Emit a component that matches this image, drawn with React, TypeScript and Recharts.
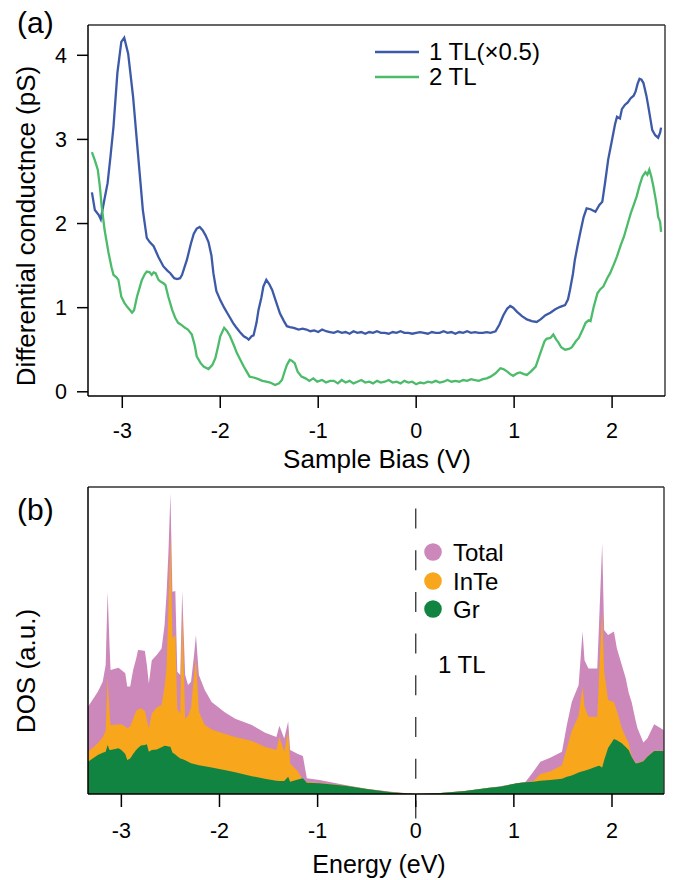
import React from 'react';
import { LineChart, Line, XAxis, YAxis, ReferenceLine, AreaChart, Area } from 'recharts';

const FONT = '"Liberation Sans", Arial, Helvetica, sans-serif';

// ---------- Panel (a): dI/dV spectra ----------
const biasTicks = [-3, -2, -1, 0, 1, 2];
const conductanceTicks = [0, 1, 2, 3, 4];

const tl1Bias = [
  -3.31, -3.28, -3.24, -3.22, -3.18, -3.15, -3.12, -3.09, -3.05, -3.01, -2.98, -2.94, -2.89, -2.84, -2.79, -2.75,
  -2.72, -2.68, -2.63, -2.58, -2.54, -2.51, -2.47, -2.44, -2.41, -2.39, -2.34, -2.30, -2.27, -2.24, -2.21, -2.18,
  -2.15, -2.12, -2.09, -2.07, -2.04, -2.00, -1.96, -1.93, -1.90, -1.87, -1.84, -1.80, -1.76, -1.73, -1.71, -1.68,
  -1.66, -1.63, -1.61, -1.58, -1.56, -1.53, -1.50, -1.47, -1.43, -1.39, -1.35, -1.32, -1.29, -1.25, -1.20, -1.16,
  -1.12, -1.08, -1.04, -1.00, -0.96, -0.92, -0.88,
  -0.84, -0.80, -0.76, -0.72, -0.68, -0.64, -0.60, -0.56, -0.52, -0.48, -0.44, -0.40, -0.36, -0.32, -0.28, -0.24,
  -0.20, -0.16, -0.12, -0.08, -0.04, 0.00, 0.04, 0.08, 0.12, 0.16, 0.20, 0.24, 0.28, 0.32, 0.36, 0.40, 0.44, 0.48,
  0.52, 0.56, 0.60, 0.64, 0.68, 0.72, 0.76,
  0.81, 0.85, 0.89, 0.93, 0.96, 0.99, 1.03, 1.08, 1.13, 1.18, 1.23, 1.27, 1.32, 1.37, 1.42, 1.47, 1.52, 1.55, 1.57,
  1.60, 1.62, 1.65, 1.68, 1.71, 1.74, 1.78, 1.83, 1.87, 1.90, 1.93, 1.96, 2.00, 2.03, 2.05, 2.08, 2.10, 2.13, 2.16,
  2.19, 2.22, 2.24, 2.26, 2.28, 2.30, 2.32, 2.35, 2.37, 2.39, 2.41, 2.44, 2.47, 2.49, 2.50,
];
const tl1Cond = [
  2.37, 2.16, 2.10, 2.05, 2.30, 2.48, 2.80, 3.15, 3.79, 4.16, 4.21, 4.02, 3.51, 2.83, 2.16, 1.83,
  1.78, 1.73, 1.60, 1.49, 1.44, 1.41, 1.35, 1.34, 1.35, 1.39, 1.57, 1.76, 1.88, 1.94, 1.96, 1.92,
  1.86, 1.78, 1.62, 1.41, 1.20, 1.09, 1.00, 0.94, 0.88, 0.82, 0.77, 0.71, 0.66, 0.64, 0.62, 0.66,
  0.67, 0.82, 0.97, 1.12, 1.25, 1.33, 1.28, 1.21, 1.07, 0.93, 0.84, 0.78, 0.77, 0.76, 0.74, 0.75,
  0.74, 0.72, 0.73, 0.71, 0.74, 0.72, 0.71,
  0.70, 0.72, 0.70, 0.71, 0.69, 0.72, 0.70, 0.71, 0.69, 0.71, 0.70, 0.72, 0.70, 0.70, 0.69, 0.71,
  0.70, 0.72, 0.70, 0.70, 0.69, 0.70, 0.71, 0.70, 0.69, 0.71, 0.70, 0.70, 0.72, 0.70, 0.71, 0.69, 0.71, 0.70,
  0.72, 0.70, 0.71, 0.70, 0.70, 0.71, 0.70,
  0.72, 0.80, 0.91, 0.99, 1.02, 1.00, 0.95, 0.90, 0.86, 0.84, 0.83, 0.86, 0.91, 0.94, 0.98, 1.01, 1.03, 1.10, 1.21,
  1.40, 1.57, 1.75, 1.92, 2.08, 2.18, 2.17, 2.14, 2.22, 2.26, 2.50, 2.76, 3.00, 3.18, 3.27, 3.25, 3.36, 3.41, 3.44,
  3.49, 3.52, 3.57, 3.66, 3.72, 3.71, 3.67, 3.52, 3.39, 3.25, 3.11, 3.05, 3.02, 3.08, 3.14,
];

const tl2Bias = [
  -3.31, -3.28, -3.25, -3.23, -3.21, -3.18, -3.14, -3.11, -3.09, -3.06, -3.04, -3.01, -2.98, -2.95, -2.92, -2.90,
  -2.88, -2.85, -2.82, -2.80, -2.77, -2.75, -2.72, -2.70, -2.68, -2.66, -2.63, -2.61, -2.58, -2.56, -2.53, -2.49,
  -2.46, -2.43, -2.39, -2.36, -2.33, -2.29, -2.26, -2.24, -2.20, -2.17, -2.12, -2.08, -2.05, -2.02, -2.00, -1.96,
  -1.93, -1.90, -1.86, -1.83, -1.79, -1.76, -1.73, -1.70, -1.66, -1.61, -1.57, -1.53, -1.49, -1.44, -1.40, -1.37,
  -1.34, -1.32, -1.29, -1.27, -1.24, -1.21, -1.17, -1.13, -1.09, -1.05, -1.01, -0.96, -0.92, -0.88,
  -0.84, -0.80, -0.76, -0.72, -0.68, -0.64, -0.60, -0.56, -0.52, -0.48, -0.44, -0.40, -0.36, -0.32, -0.28, -0.24,
  -0.20, -0.16, -0.12, -0.08, -0.04, 0.00, 0.04, 0.08, 0.12, 0.16, 0.20, 0.24, 0.28, 0.32, 0.36, 0.40, 0.44, 0.48,
  0.52, 0.56, 0.60, 0.64, 0.68, 0.72, 0.76,
  0.81, 0.86, 0.89, 0.93, 0.96, 0.99, 1.03, 1.06, 1.10, 1.13, 1.17, 1.22, 1.25, 1.28, 1.31, 1.33, 1.37, 1.40, 1.43,
  1.45, 1.48, 1.52, 1.56, 1.59, 1.63, 1.66, 1.70, 1.73, 1.76, 1.78, 1.81, 1.85, 1.88, 1.91, 1.95, 1.98, 2.02, 2.05,
  2.09, 2.12, 2.16, 2.19, 2.22, 2.25, 2.28, 2.31, 2.34, 2.36, 2.38, 2.40, 2.42, 2.44, 2.46, 2.47, 2.49, 2.50,
];
const tl2Cond = [
  2.85, 2.75, 2.64, 2.45, 2.20, 1.92, 1.65, 1.48, 1.39, 1.36, 1.33, 1.13, 1.06, 1.01, 0.97, 0.94,
  0.97, 1.13, 1.25, 1.33, 1.40, 1.43, 1.42, 1.39, 1.42, 1.41, 1.33, 1.31, 1.29, 1.27, 1.13, 0.97,
  0.88, 0.82, 0.79, 0.76, 0.74, 0.68, 0.55, 0.42, 0.34, 0.30, 0.27, 0.32, 0.40, 0.55, 0.66, 0.76,
  0.72, 0.66, 0.55, 0.46, 0.37, 0.30, 0.24, 0.18, 0.17, 0.15, 0.13, 0.12, 0.11, 0.08, 0.10, 0.14,
  0.25, 0.32, 0.38, 0.37, 0.34, 0.24, 0.18, 0.16, 0.13, 0.16, 0.12, 0.14, 0.11, 0.13,
  0.13, 0.10, 0.14, 0.11, 0.13, 0.10, 0.12, 0.14, 0.11, 0.12, 0.10, 0.13, 0.11, 0.12, 0.14, 0.11,
  0.12, 0.10, 0.13, 0.11, 0.12, 0.09, 0.11, 0.10, 0.12, 0.11, 0.13, 0.11, 0.12, 0.14, 0.12, 0.13, 0.12, 0.14,
  0.13, 0.15, 0.14, 0.13, 0.15, 0.16, 0.18,
  0.22, 0.28, 0.27, 0.24, 0.21, 0.19, 0.22, 0.23, 0.21, 0.20, 0.24, 0.30, 0.40, 0.50, 0.60, 0.63, 0.64, 0.68, 0.62,
  0.59, 0.53, 0.50, 0.51, 0.53, 0.60, 0.64, 0.74, 0.82, 0.85, 0.84, 1.00, 1.17, 1.22, 1.25, 1.35, 1.41, 1.52, 1.61,
  1.75, 1.84, 2.00, 2.12, 2.22, 2.32, 2.45, 2.56, 2.61, 2.58, 2.64, 2.56, 2.45, 2.32, 2.18, 2.08, 2.02, 1.90,
];

const tl1Data = tl1Bias.map((x, i) => ({ x, y: tl1Cond[i] }));
const tl2Data = tl2Bias.map((x, i) => ({ x, y: tl2Cond[i] }));

// ---------- Panel (b): DOS ----------
const energyTicks = [-3, -2, -1, 0, 1, 2];
const energy = [
  -3.34, -3.24, -3.19, -3.16, -3.14, -3.12, -3.11, -3.03, -3.00, -2.96, -2.94, -2.91, -2.88, -2.85, -2.83, -2.80,
  -2.76, -2.74, -2.72, -2.69, -2.64, -2.59, -2.56, -2.54, -2.52, -2.50, -2.48, -2.45, -2.43, -2.40, -2.38, -2.35,
  -2.32, -2.29, -2.26, -2.24, -2.21, -2.15, -2.08, -1.95, -1.84, -1.67, -1.54, -1.42, -1.39, -1.34, -1.30, -1.28,
  -1.20, -1.15, -1.11, -0.98, -0.72, -0.50, -0.25, 0.00, 0.25, 0.50, 0.75, 0.86, 1.03, 1.12, 1.20, 1.27, 1.37,
  1.49, 1.54, 1.59, 1.66, 1.70, 1.72, 1.76, 1.85, 1.87, 1.90, 1.92, 1.96, 2.02, 2.05, 2.10, 2.14, 2.17, 2.20, 2.24,
  2.26, 2.32, 2.36, 2.43, 2.53,
];
const dosTotal = [
  28.4, 33.3, 36.6, 42.0, 65.9, 48.0, 40.4, 41.1, 40.4, 39.3, 35.0, 35.0, 40.4, 44.0, 46.9, 46.8,
  46.6, 42.0, 36.0, 43.6, 45.3, 47.4, 55.0, 65.0, 78.9, 97.9, 65.9, 66.1, 39.8, 38.8, 66.1, 38.8,
  35.5, 36.6, 45.0, 51.8, 38.8, 33.9, 30.0, 26.7, 24.5, 22.5, 20.0, 18.6, 22.2, 18.1, 23.6, 14.3,
  13.0, 12.4, 5.1, 4.6, 2.9, 1.7, 0.7, 0.0, 0.3, 1.0, 2.0, 2.5, 3.5, 4.0, 7.3, 10.5, 11.8,
  13.8, 22.5, 30.0, 35.5, 52.9, 43.6, 40.9, 40.9, 57.2, 81.7, 53.4, 51.8, 52.9, 47.4, 42.0, 37.7, 33.0, 30.0, 24.0,
  21.4, 16.8, 18.1, 22.7, 20.8,
];
const dosInTe = [
  13.8, 16.5, 18.5, 20.5, 37.7, 26.0, 22.5, 22.6, 22.7, 22.0, 21.4, 22.0, 24.5, 27.0, 27.5, 27.9,
  27.0, 24.0, 21.4, 26.2, 28.2, 29.0, 35.0, 40.9, 60.0, 84.4, 50.7, 51.8, 27.5, 26.2, 59.4, 24.5,
  25.5, 28.0, 38.0, 44.2, 26.8, 22.5, 21.0, 19.6, 18.6, 17.3, 15.4, 14.3, 18.6, 13.8, 20.2, 9.9,
  7.3, 4.6, 3.9, 3.6, 2.8, 1.6, 0.6, 0.0, 0.3, 1.0, 2.0, 2.4, 3.5, 3.8, 4.2, 6.5, 7.3,
  9.4, 14.9, 20.5, 25.5, 35.0, 28.4, 25.2, 25.2, 39.8, 59.4, 39.8, 30.6, 30.0, 27.0, 21.5, 18.5, 16.5, 12.3, 10.2,
  10.1, 10.8, 12.2, 14.1, 14.1,
];
const dosGr = [
  10.5, 12.7, 13.4, 13.8, 16.0, 14.3, 14.3, 14.9, 14.3, 13.0, 11.1, 11.6, 13.0, 14.3, 15.0, 15.8,
  16.0, 16.2, 13.8, 14.3, 14.5, 15.2, 15.7, 15.6, 15.5, 15.4, 13.5, 12.9, 12.3, 11.6, 11.4, 11.0,
  10.5, 10.0, 9.8, 9.6, 9.4, 9.0, 8.6, 7.8, 7.1, 5.8, 5.0, 4.3, 4.2, 4.2, 5.6, 4.0,
  4.7, 5.1, 3.7, 3.5, 2.7, 1.6, 0.6, 0.0, 0.3, 1.0, 2.0, 2.4, 3.5, 3.8, 4.0, 4.3, 4.6,
  5.0, 5.6, 6.0, 7.0, 7.4, 7.6, 8.0, 9.0, 9.2, 8.6, 11.0, 15.0, 17.9, 17.5, 16.5, 15.3, 14.3, 12.1, 10.0,
  10.0, 10.7, 12.1, 14.0, 14.0,
];
const dosData = energy.map((e, i) => ({ e, total: dosTotal[i], inte: dosInTe[i], gr: dosGr[i] }));

const BLUE = '#3d5aa8';
const GREEN = '#4cbb6a';
const PINK = '#cc88bb';
const ORANGE = '#f8a61c';
const DKGREEN = '#128442';

const tickStyle = { fontSize: 21.5, fill: '#000', fontFamily: FONT };
const axisStroke = { stroke: '#000', strokeWidth: 1.5 };

export default function App() {
  return (
    <div style={{ position: 'absolute', left: 0, top: 0, width: 676, height: 880, background: '#fff', fontFamily: FONT }}>
      <div style={{ position: 'absolute', left: 0, top: 0 }}>
        <LineChart width={676} height={480} margin={{ top: 25, right: 11, left: 28, bottom: 9 }}>
          <XAxis
            type="number"
            dataKey="x"
            domain={[-3.35, 2.54]}
            allowDataOverflow
            ticks={biasTicks}
            tickSize={12}
            tickMargin={15}
            height={75}
            tick={tickStyle}
            axisLine={axisStroke}
            tickLine={axisStroke}
          />
          <YAxis
            type="number"
            dataKey="y"
            domain={[-0.05, 4.36]}
            allowDataOverflow
            ticks={conductanceTicks}
            tickSize={11}
            tickMargin={10}
            width={60}
            tick={tickStyle}
            axisLine={axisStroke}
            tickLine={axisStroke}
          />
          <ReferenceLine y={4.36} stroke="#333" strokeWidth={1.4} />
          <ReferenceLine x={2.54} stroke="#333" strokeWidth={1.4} />
          <Line data={tl1Data} dataKey="y" type="linear" stroke={BLUE} strokeWidth={2.3} dot={false} isAnimationActive={false} name="1 TL(×0.5)" />
          <Line data={tl2Data} dataKey="y" type="linear" stroke={GREEN} strokeWidth={2.3} dot={false} isAnimationActive={false} name="2 TL" />
        </LineChart>
      </div>
      <div style={{ position: 'absolute', left: 0, top: 480 }}>
        <AreaChart width={676} height={400} data={dosData} margin={{ top: 7, right: 12, left: 28, bottom: 26 }}>
          <XAxis
            type="number"
            dataKey="e"
            domain={[-3.34, 2.53]}
            allowDataOverflow
            ticks={energyTicks}
            tickSize={13}
            tickMargin={16}
            height={60}
            tick={tickStyle}
            axisLine={axisStroke}
            tickLine={axisStroke}
          />
          <YAxis type="number" domain={[0, 100]} allowDataOverflow tick={false} tickLine={false} width={60} axisLine={axisStroke} />
          <Area dataKey="total" type="linear" stroke="none" fill={PINK} fillOpacity={1} isAnimationActive={false} />
          <Area dataKey="inte" type="linear" stroke="none" fill={ORANGE} fillOpacity={1} isAnimationActive={false} />
          <Area dataKey="gr" type="linear" stroke="none" fill={DKGREEN} fillOpacity={1} isAnimationActive={false} />
          <ReferenceLine y={100} stroke="#333" strokeWidth={1.4} />
          <ReferenceLine x={2.53} stroke="#333" strokeWidth={1.4} />
          <ReferenceLine
            segment={[{ x: 0, y: 93 }, { x: 0, y: -8 }]}
            ifOverflow="visible"
            stroke="#333"
            strokeWidth={1.3}
            strokeDasharray="20 21.7"
          />
        </AreaChart>
      </div>
      <svg width={676} height={880} style={{ position: 'absolute', left: 0, top: 0, pointerEvents: 'none' }}>
        <g fontFamily={FONT} fill="#000">
          <text x={17} y={33} fontSize={30}>(a)</text>
          <text x={17} y={520} fontSize={30}>(b)</text>
          <text x={377} y={468} fontSize={26} textAnchor="middle">Sample Bias (V)</text>
          <text x={35} y={226} fontSize={26} textAnchor="middle" transform="rotate(-90 35 226)">Differential conductnce (pS)</text>
          <text x={379} y={873} fontSize={25} textAnchor="middle">Energy (eV)</text>
          <text x={35} y={671} fontSize={26} textAnchor="middle" transform="rotate(-90 35 671)">DOS (a.u.)</text>
          <line x1={375} y1={52} x2={419} y2={52} stroke={BLUE} strokeWidth={2.5} />
          <text x={429} y={60} fontSize={24}>1 TL(×0.5)</text>
          <line x1={375} y1={77} x2={419} y2={77} stroke={GREEN} strokeWidth={2.5} />
          <text x={429} y={85} fontSize={24}>2 TL</text>
          <circle cx={433} cy={552} r={8.8} fill={PINK} />
          <text x={453} y={561} fontSize={24}>Total</text>
          <circle cx={433} cy={581} r={8.8} fill={ORANGE} />
          <text x={453} y={590} fontSize={24}>InTe</text>
          <circle cx={433} cy={609} r={8.8} fill={DKGREEN} />
          <text x={453} y={618} fontSize={24}>Gr</text>
          <text x={438} y={673} fontSize={24}>1 TL</text>
        </g>
      </svg>
    </div>
  );
}
